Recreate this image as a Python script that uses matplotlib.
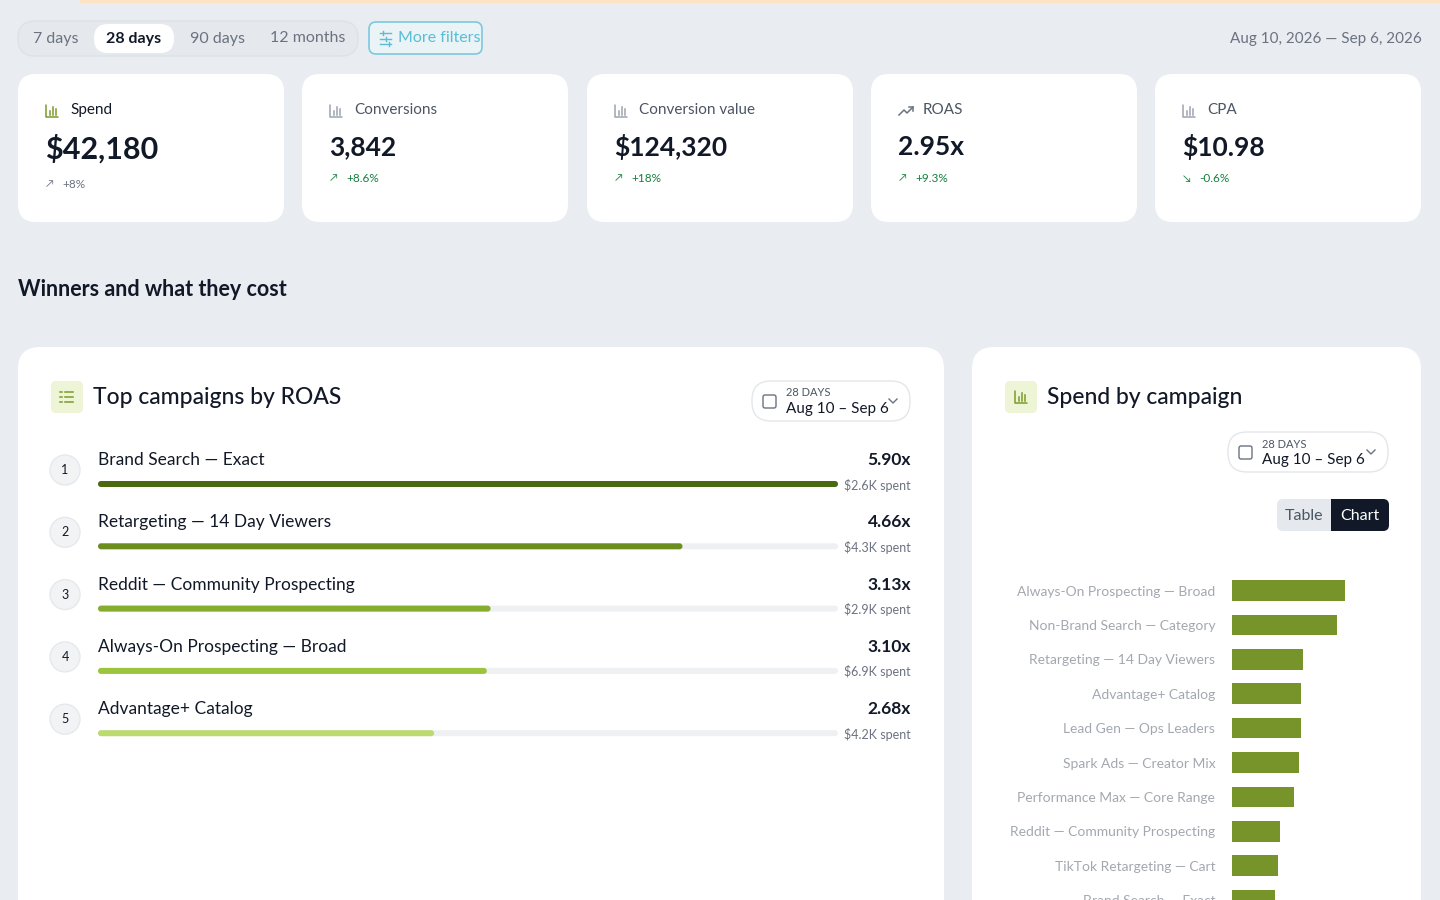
import matplotlib
matplotlib.use("Agg")
import matplotlib.pyplot as plt
from matplotlib.patches import FancyBboxPatch, Circle, Rectangle

plt.rcParams['font.family'] = ['Lato', 'DejaVu Sans']

# ---- data ----
ranges = ["7 days", "28 days", "90 days", "12 months"]
kpi_labels = ["Spend", "Conversions", "Conversion value", "ROAS", "CPA"]
kpi_values = ["$42,180", "3,842", "$124,320", "2.95x", "$10.98"]
kpi_changes = ["+8%", "+8.6%", "+18%", "+9.3%", "-0.6%"]
top_names = ["Brand Search — Exact", "Retargeting — 14 Day Viewers", "Reddit — Community Prospecting",
             "Always-On Prospecting — Broad", "Advantage+ Catalog"]
top_roas = [5.90, 4.66, 3.13, 3.10, 2.68]
top_spent = ["$2.6K spent", "$4.3K spent", "$2.9K spent", "$6.9K spent", "$4.2K spent"]
spend_names = ["Always-On Prospecting — Broad", "Non-Brand Search — Category", "Retargeting — 14 Day Viewers",
               "Advantage+ Catalog", "Lead Gen — Ops Leaders", "Spark Ads — Creator Mix",
               "Performance Max — Core Range", "Reddit — Community Prospecting", "TikTok Retargeting — Cart",
               "Brand Search — Exact"]
spend_k = [6.9, 6.4, 4.3, 4.2, 4.2, 4.1, 3.8, 2.9, 2.8, 2.6]

W, H = 1440, 900
fig = plt.figure(figsize=(14.4, 9), dpi=100)
fig.patch.set_facecolor("#e9edf1")
ax = fig.add_axes([0, 0, 1, 1])
ax.set_xlim(0, W); ax.set_ylim(H, 0); ax.axis("off")

def rbox(x0, y0, x1, y1, r, fc, ec="none", lw=1, z=1):
    ax.add_patch(FancyBboxPatch((x0 + r, y0 + r), x1 - x0 - 2 * r, y1 - y0 - 2 * r,
                                boxstyle=f"round,pad={r}", fc=fc, ec=ec, lw=lw, zorder=z))

def t(x, y, s, size, color="#111827", ha="left", weight="normal", z=5):
    ax.text(x, y, s, fontsize=size, color=color, ha=ha, va="center", fontweight=weight, zorder=z)

def bar_icon(x, y, col, s=1.0):
    ax.plot([x, x, x + 12 * s], [y - 12 * s, y, y], color=col, lw=1.1, zorder=6, solid_capstyle="round")
    for dx, h in [(4, 4), (7, 8), (10, 6)]:
        ax.plot([x + dx * s, x + dx * s], [y - 2, y - 2 - h * s], color=col, lw=1.1, zorder=6)

def trend_icon(x, y, col):
    ax.plot([x, x + 5, x + 8, x + 14], [y, y - 5, y - 2, y - 8], color=col, lw=1.1, zorder=6)
    ax.plot([x + 10, x + 14, x + 14], [y - 8, y - 8, y - 4], color=col, lw=1.1, zorder=6)

def list_icon(x, y, col):
    for k in range(3):
        ax.plot([x + 5, x + 13], [y + k * 5, y + k * 5], color=col, lw=1.1, zorder=6)
        ax.plot([x, x + 2], [y + k * 5, y + k * 5], color=col, lw=1.1, zorder=6)

# top strip
ax.add_patch(Rectangle((80, 0), 1360, 2.5, fc="#fbe3c4", ec="none"))

# segmented control
rbox(18, 21, 358, 56, 17, "#e5e9ed", ec="#dde2e7")
rbox(94, 24, 174, 53, 14, "white")
for s, x in zip(ranges, [56, 134, 217, 308]):
    t(x, 38.5, s, 11.5, "#111827" if s == "28 days" else "#6b7280", ha="center",
      weight="bold" if s == "28 days" else "normal")
rbox(369, 22, 482, 54, 7, "#eaf3f6", ec="#7cc8df", lw=1.2)
for k in range(3):
    ax.plot([380, 391], [33 + k * 5.5, 33 + k * 5.5], color="#5bbcd6", lw=1, zorder=6)
    ax.plot([383 + 3 * k, 383 + 3 * k], [31 + k * 5.5, 35 + k * 5.5], color="#5bbcd6", lw=1, zorder=6)
t(398, 38.5, "More filters", 11.5, "#5bbcd6")
t(1422, 39, "Aug 10, 2026 — Sep 6, 2026", 11, "#6b7280", ha="right")

# KPI cards
xs = [18, 302, 587, 871, 1155]
arrows = ["↗", "↗", "↗", "↗", "↘"]
for i, x in enumerate(xs):
    rbox(x, 74, x + 266, 222, 18, "white")
    if i == 3:
        trend_icon(x + 28, 115, "#6b7280")
    else:
        bar_icon(x + 28, 117, "#7a9a2a" if i == 0 else "#9ca3af")
    t(x + 52, 110, kpi_labels[i], 11, "#111827" if i == 0 else "#4b5563")
    big = 22 if i == 0 else 19
    t(x + 27, 149 if i == 0 else 147, kpi_values[i], big, "#111827", weight="bold")
    cy = 185 if i == 0 else 179
    col = "#6b7280" if i == 0 else "#15803d"
    t(x + 28, cy, arrows[i], 7.5, col)
    t(x + 44, cy, kpi_changes[i], 8.5, col)

t(18, 289, "Winners and what they cost", 15.5, "#111827", weight="bold")

# panels
rbox(18, 347, 944, 930, 22, "white")
rbox(972, 347, 1421, 930, 22, "white")

# left panel header
rbox(51, 381, 83, 413, 5, "#eef5d6")
list_icon(60, 392, "#7a9a2a")
t(93, 397, "Top campaigns by ROAS", 16.5, "#111827", weight="medium")
def dropdown(x0, y0, x1, y1):
    rbox(x0, y0, x1, y1, 19, "white", ec="#e3e6ea", lw=1)
    rbox(x0 + 11, y0 + 14, x0 + 24, y0 + 27, 2, "none", ec="#6b7280", lw=1, z=6)
    t(x0 + 34, y0 + 12, "28 DAYS", 8, "#4b5563")
    t(x0 + 34, y0 + 28, "Aug 10 – Sep 6", 11, "#111827")
    ax.plot([x1 - 21, x1 - 17, x1 - 13], [(y0 + y1) / 2 - 2, (y0 + y1) / 2 + 2, (y0 + y1) / 2 - 2],
            color="#6b7280", lw=1, zorder=6)
dropdown(752, 381, 910, 421)

bar_cols = ["#4a6a10", "#6b8e1f", "#86ad2d", "#9cc43c", "#bcdb6e"]
track_x0, track_x1 = 98, 838
mx = max(top_roas)
for i, (n, r, s) in enumerate(zip(top_names, top_roas, top_spent)):
    y = 460 + 62.3 * i
    ax.add_patch(Circle((65, y + 10), 15, fc="#f1f3f5", ec="#e6e9ec", zorder=3))
    t(65, y + 10, str(i + 1), 9, "#111827", ha="center")
    t(98, y, n, 12.5, "#111827")
    t(911, y, f"{r:.2f}x", 12.5, "#111827", ha="right", weight="bold")
    rbox(track_x0, y + 21, track_x1, y + 27, 3, "#eef0f2", z=2)
    rbox(track_x0, y + 21, track_x0 + (track_x1 - track_x0) * r / mx, y + 27, 3, bar_cols[i], z=3)
    t(911, y + 25, s, 9, "#6b7280", ha="right")

# right panel header
rbox(1005, 381, 1037, 413, 5, "#eef5d6")
bar_icon(1015, 403, "#7a9a2a")
t(1047, 397, "Spend by campaign", 16.5, "#111827", weight="medium")
dropdown(1228, 432, 1388, 472)
rbox(1277, 499, 1389, 531, 6, "#e5e9ed")
rbox(1331, 499, 1389, 531, 6, "#111827")
ax.add_patch(Rectangle((1331, 499), 8, 32, fc="#111827", ec="none", zorder=1.5))
t(1304, 515.5, "Table", 11.5, "#4b5563", ha="center")
t(1360, 515.5, "Chart", 11.5, "white", ha="center")

# spend bar chart (real axes)
ax_l, ax_r, ax_t, ax_b = 1232, 1390, 573, 900
bx = fig.add_axes([ax_l / W, 1 - ax_b / H, (ax_r - ax_l) / W, (ax_b - ax_t) / H])
bx.patch.set_alpha(0)
ypos = list(range(len(spend_names)))
bx.barh(ypos, spend_k, height=0.6, color="#76942a")
bx.set_xlim(0, (ax_r - ax_l) / 16.4)
bx.set_ylim((ax_b - ax_t) / 35 - 0.514, -0.514)
bx.set_yticks(ypos)
bx.set_yticklabels(spend_names, fontsize=10, color="#a3a8b0")
bx.tick_params(axis="y", length=0, pad=12)
bx.set_xticks([])
for sp in bx.spines.values():
    sp.set_visible(False)

fig.savefig("out.png", dpi=100, facecolor=fig.get_facecolor())
